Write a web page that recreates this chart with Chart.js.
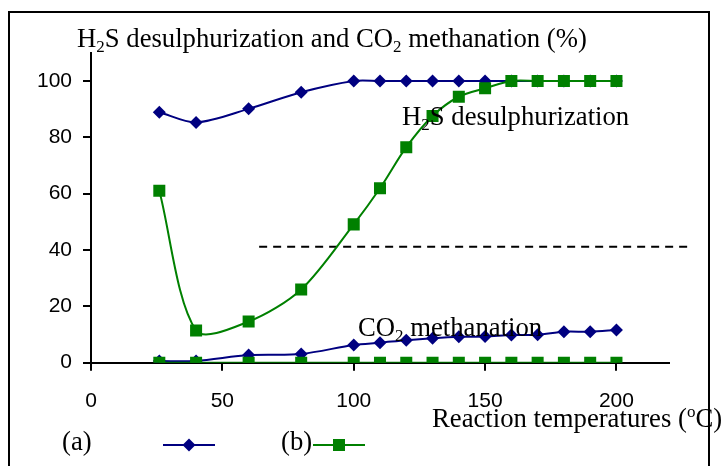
<!DOCTYPE html>
<html>
<head>
<meta charset="utf-8">
<script src="https://cdn.jsdelivr.net/npm/chart.js@4.4.0/dist/chart.umd.min.js"></script>
<style>
  html, body { margin: 0; padding: 0; background: #fff; }
  #wrap { width: 723px; height: 466px; position: relative; }
</style>
</head>
<body>
<div id="wrap"><canvas id="chart"></canvas></div>
<script>
// values
const temperatures = [26, 40, 60, 80, 100, 110, 120, 130, 140, 150, 160, 170, 180, 190, 200];
const h2sA = [88.9, 85.3, 90.1, 96, 100, 100, 100, 100, 100, 100, 100, 100, 100, 100, 100];
const h2sB = [61, 11.4, 14.6, 26, 49.1, 61.9, 76.5, 87.6, 94.4, 97.4, 100, 100, 100, 100, 100];
const co2A = [0.6, 0.6, 2.7, 3.1, 6.3, 7.1, 8, 8.7, 9.2, 9.3, 9.8, 9.9, 11, 11, 11.6];
const co2B = [0, 0, 0, 0, 0, 0, 0, 0, 0, 0, 0, 0, 0, 0, 0];
const xTicks = [0, 50, 100, 150, 200];
const yTicks = [0, 20, 40, 60, 80, 100];
const refLineX = [64, 227];
const refLineY = 41.2;

const BLUE = '#000080';
const GREEN = '#008000';
const SERIF = "'Liberation Serif', 'Times New Roman', serif";
const SANS = "'Liberation Sans', Arial, sans-serif";
const FS = 26.7;

function pts(ys) {
    return temperatures.map((t, i) => ({ x: t, y: ys[i] }));
}

// text with sub/superscripts: parts = [[text, 'sub'|'sup'|undefined], ...]
function richText(ctx, parts, x, y, size) {
    let cx = x;
    parts.forEach(p => {
        const kind = p[1];
        const s = kind ? Math.round(size * 0.65) : size;
        const dy = kind === 'sub' ? size * 0.2 : kind === 'sup' ? -size * 0.38 : 0;
        ctx.font = s + 'px ' + SERIF;
        ctx.fillText(p[0], cx, y + dy);
        cx += ctx.measureText(p[0]).width;
    });
}

function diamond(ctx, x, y, r) {
    ctx.beginPath();
    ctx.moveTo(x - r, y);
    ctx.lineTo(x, y - r);
    ctx.lineTo(x + r, y);
    ctx.lineTo(x, y + r);
    ctx.closePath();
    ctx.fill();
}

const textPlugin = {
    id: 'texts',
    beforeDraw(chart) {
        const ctx = chart.ctx;
        ctx.save();
        ctx.fillStyle = '#fff';
        ctx.fillRect(0, 0, chart.width, chart.height);
        ctx.restore();
    },
    afterDraw(chart) {
        const ctx = chart.ctx;
        ctx.save();
        ctx.fillStyle = '#000';
        ctx.textBaseline = 'alphabetic';
        ctx.textAlign = 'left';
        richText(ctx, [['H'], ['2', 'sub'], ['S desulphurization and CO'], ['2', 'sub'], [' methanation (%)']], 77, 47, FS);
        richText(ctx, [['H'], ['2', 'sub'], ['S desulphurization']], 402, 125, FS);
        richText(ctx, [['CO'], ['2', 'sub'], [' methanation']], 358, 336, FS);
        richText(ctx, [['Reaction temperatures ('], ['o', 'sup'], ['C)']], 432, 427, FS);
        richText(ctx, [['(a)']], 62, 450, FS);
        richText(ctx, [['(b)']], 281, 450, FS);

        // legend keys
        ctx.lineWidth = 2;
        ctx.strokeStyle = BLUE;
        ctx.beginPath(); ctx.moveTo(163, 445); ctx.lineTo(215, 445); ctx.stroke();
        ctx.fillStyle = BLUE;
        diamond(ctx, 189, 445, 6.5);
        ctx.strokeStyle = GREEN;
        ctx.beginPath(); ctx.moveTo(313, 445); ctx.lineTo(365, 445); ctx.stroke();
        ctx.fillStyle = GREEN;
        ctx.fillRect(333, 439, 12, 12);

        // outer frame
        ctx.strokeStyle = '#000';
        ctx.lineWidth = 2;
        ctx.strokeRect(9, 12, 700, 470);
        ctx.restore();
    }
};

const lineBase = {
    borderWidth: 2,
    tension: 0.3,
    fill: false
};

new Chart(document.getElementById('chart'), {
    type: 'line',
    data: {
        datasets: [
            Object.assign({}, lineBase, {
                label: '(b) H2S', data: pts(h2sB), order: 0,
                borderColor: GREEN, backgroundColor: GREEN,
                pointStyle: 'rect', pointRadius: 8.5, pointBorderWidth: 0
            }),
            Object.assign({}, lineBase, {
                label: '(b) CO2', data: pts(co2B), order: 0,
                borderColor: GREEN, backgroundColor: GREEN,
                pointStyle: 'rect', pointRadius: 8.5, pointBorderWidth: 0
            }),
            Object.assign({}, lineBase, {
                label: '(a) H2S', data: pts(h2sA), order: 1,
                borderColor: BLUE, backgroundColor: BLUE,
                pointStyle: 'rectRot', pointRadius: 6.5, pointBorderWidth: 0
            }),
            Object.assign({}, lineBase, {
                label: '(a) CO2', data: pts(co2A), order: 1,
                borderColor: BLUE, backgroundColor: BLUE,
                pointStyle: 'rectRot', pointRadius: 6.5, pointBorderWidth: 0
            }),
            {
                label: 'ref',
                data: refLineX.map(x => ({ x: x, y: refLineY })),
                order: 2,
                borderColor: '#000', borderWidth: 2, borderDash: [8, 6],
                pointRadius: 0, tension: 0, clip: false
            }
        ]
    },
    options: {
        responsive: true,
        maintainAspectRatio: false,
        devicePixelRatio: 1,
        animation: false,
        layout: { padding: { left: 0, top: 52.8, right: 54, bottom: 0 } },
        plugins: {
            legend: { display: false },
            tooltip: { enabled: false }
        },
        scales: {
            x: {
                type: 'linear',
                min: 0,
                max: 220,
                afterBuildTicks: s => { s.ticks = xTicks.map(v => ({ value: v })); },
                afterFit: s => { s.height = 103.3; },
                grid: { display: true, drawOnChartArea: false, drawTicks: true, tickLength: 8, color: '#000', lineWidth: 2 },
                border: { display: true, color: '#000', width: 2 },
                ticks: { color: '#000', padding: 18, maxRotation: 0, font: { family: SANS, size: 21 } }
            },
            y: {
                min: 0,
                max: 110,
                afterBuildTicks: s => { s.ticks = yTicks.map(v => ({ value: v })); },
                afterFit: s => { s.width = 91; },
                grid: { display: true, drawOnChartArea: false, drawTicks: true, tickLength: 8, color: '#000', lineWidth: 2 },
                border: { display: true, color: '#000', width: 2 },
                ticks: { color: '#000', padding: 11, font: { family: SANS, size: 21 } }
            }
        }
    },
    plugins: [textPlugin]
});
</script>
</body>
</html>
